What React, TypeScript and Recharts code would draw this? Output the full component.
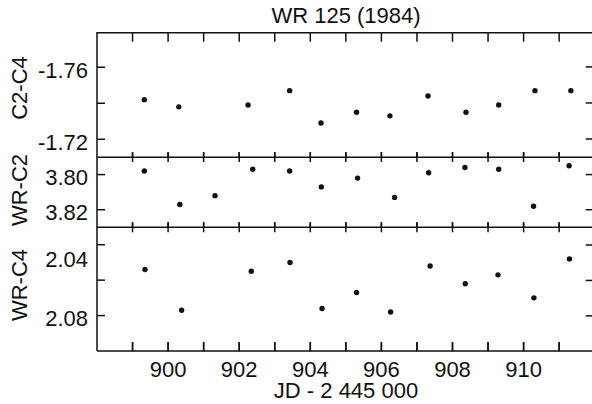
import { Scatter, ScatterChart, XAxis, YAxis } from 'recharts';

// JD - 2 445 000, one list per panel (nights)
const c2c4Jd = [899.33, 900.3, 902.25, 903.42, 904.3, 905.3, 906.24, 907.31, 908.38, 909.3, 910.32, 911.33];
const c2c4Mag = [-1.742, -1.738, -1.739, -1.747, -1.729, -1.735, -1.733, -1.744, -1.735, -1.739, -1.747, -1.747];

const wrC2Jd = [899.33, 900.33, 901.32, 902.38, 903.42, 904.31, 905.33, 906.37, 907.33, 908.35, 909.3, 910.28, 911.28];
const wrC2Mag = [3.798, 3.817, 3.812, 3.797, 3.798, 3.807, 3.802, 3.813, 3.799, 3.796, 3.797, 3.818, 3.795];

const wrC4Jd = [899.35, 900.38, 902.34, 903.43, 904.33, 905.3, 906.26, 907.37, 908.36, 909.28, 910.29, 911.29];
const wrC4Mag = [2.054, 2.077, 2.055, 2.05, 2.076, 2.067, 2.078, 2.052, 2.062, 2.057, 2.07, 2.048];

const xTicks = [899, 900, 901, 902, 903, 904, 905, 906, 907, 908, 909, 910, 911];
const xLabels = [900, 902, 904, 906, 908, 910];

const c2c4Ticks = [-1.76, -1.74, -1.72];
const c2c4Labels = [-1.76, -1.72];
const wrC2Ticks = [3.8, 3.82];
const wrC2Labels = [3.8, 3.82];
const wrC4Ticks = [2.04, 2.06, 2.08];
const wrC4Labels = [2.04, 2.08];

const INK = '#111';
const FONT = '"Liberation Sans", Arial, Helvetica, sans-serif';
const FS = 22;
const LW = 1.5;

const X_DOMAIN: [number, number] = [898, 912];
const CHART_W = 600;
const PLOT_LEFT = 97;
const PLOT_W = 497.7;
const RIGHT_W = CHART_W - PLOT_LEFT - PLOT_W;

const toPoints = (jd: number[], mag: number[]) => jd.map((x, i) => ({ x, y: mag[i] }));

const XTick = (p: any) => {
    const { x, y, payload, bottomLen, showLabel } = p;
    const v = payload.value;
    return (
        <g>
            <line x1={x} x2={x} y1={y} y2={y - bottomLen} stroke={INK} strokeWidth={LW} />
            {showLabel && xLabels.includes(v) && (
                <text x={x} y={y + 26} textAnchor="middle" fontFamily={FONT} fontSize={FS} fill={INK}>
                    {v}
                </text>
            )}
        </g>
    );
};

const YTick = (p: any) => {
    const { x, y, payload, labels, shift } = p;
    const v = payload.value;
    const extra = shift && shift[v.toFixed(2)] ? shift[v.toFixed(2)] : 0;
    return (
        <g>
            <line x1={x} x2={x + 8} y1={y} y2={y} stroke={INK} strokeWidth={LW} />
            {labels.includes(v) && (
                <text x={x - 9} y={y + FS * 0.36 + 2.5 + extra} textAnchor="end" fontFamily={FONT} fontSize={FS} fill={INK}>
                    {v.toFixed(2)}
                </text>
            )}
        </g>
    );
};

const Dot = (p: any) => <circle cx={p.cx} cy={p.cy} r={2.7} fill={INK} />;

interface PanelProps {
    top: number;
    plotHeight: number;
    data: { x: number; y: number }[];
    domain: [number, number];
    ticks: number[];
    labels: number[];
    bottomTick: number;
    showX?: boolean;
    shift?: { [k: string]: number };
}

// each panel is its own chart, stacked so the plot areas touch
const Panel = ({ top, plotHeight, data, domain, ticks, labels, bottomTick, showX, shift }: PanelProps) => {
    const bottomSpace = showX ? 50 : 10;
    const axisLine = { stroke: INK, strokeWidth: LW };
    return (
        <div style={{ position: 'absolute', left: 0, top }}>
            <ScatterChart
                width={CHART_W}
                height={plotHeight + bottomSpace}
                margin={{ top: 0, right: RIGHT_W, bottom: 0, left: 0 }}
            >
                <XAxis
                    xAxisId="b"
                    type="number"
                    dataKey="x"
                    domain={X_DOMAIN}
                    allowDataOverflow
                    ticks={xTicks}
                    interval={0}
                    height={bottomSpace}
                    tickSize={0}
                    tickMargin={0}
                    tickLine={false}
                    axisLine={axisLine}
                    tick={(p: any) => <XTick {...p} bottomLen={bottomTick} showLabel={showX} />}
                />
                <YAxis
                    yAxisId="l"
                    type="number"
                    dataKey="y"
                    domain={domain}
                    allowDataOverflow
                    reversed
                    ticks={ticks}
                    interval={0}
                    width={PLOT_LEFT}
                    tickSize={0}
                    tickMargin={0}
                    tickLine={false}
                    axisLine={axisLine}
                    tick={(p: any) => <YTick {...p} labels={labels} shift={shift} />}
                />
                <Scatter xAxisId="b" yAxisId="l" data={data} shape={Dot} isAnimationActive={false} />
            </ScatterChart>
        </div>
    );
};

// panel geometry shared by the charts and the frame overlay
const panels = [
    { top: 32.7, plotHeight: 124.3, domain: [-1.779, -1.71] as [number, number], ticks: c2c4Ticks, topLen: 9, bottomLen: 5 },
    { top: 157, plotHeight: 70.3, domain: [3.79, 3.83] as [number, number], ticks: wrC2Ticks, topLen: 5, bottomLen: 5 },
    { top: 227.3, plotHeight: 124, domain: [2.03, 2.1] as [number, number], ticks: wrC4Ticks, topLen: 5, bottomLen: 9 },
];

const xPos = (v: number) => PLOT_LEFT + ((v - X_DOMAIN[0]) / (X_DOMAIN[1] - X_DOMAIN[0])) * PLOT_W;

// top edge, inner edges and right edge ticks of the frame
const FrameTicks = () => {
    const right = PLOT_LEFT + PLOT_W;
    return (
        <g stroke={INK} strokeWidth={LW}>
            <line x1={PLOT_LEFT - 0.7} x2={right} y1={panels[0].top} y2={panels[0].top} />
            {panels.map((pn, i) => {
                const bottom = pn.top + pn.plotHeight;
                const yPos = (v: number) => pn.top + ((v - pn.domain[0]) / (pn.domain[1] - pn.domain[0])) * pn.plotHeight;
                return (
                    <g key={i}>
                        {xTicks.map((t) => (
                            <g key={t}>
                                <line x1={xPos(t)} x2={xPos(t)} y1={pn.top} y2={pn.top + pn.topLen} />
                                <line x1={xPos(t)} x2={xPos(t)} y1={bottom} y2={bottom - pn.bottomLen} />
                            </g>
                        ))}
                        {pn.ticks.map((t) => (
                            <line key={t} x1={right} x2={right - 9} y1={yPos(t)} y2={yPos(t)} />
                        ))}
                    </g>
                );
            })}
        </g>
    );
};

const App = () => {
    const textStyle = { fontFamily: FONT, fontSize: FS, fill: INK };
    return (
        <div
            style={{
                position: 'absolute',
                left: 0,
                top: 0,
                width: 592,
                height: 404,
                overflow: 'hidden',
                background: '#fff',
            }}
        >
            <Panel
                top={panels[0].top}
                plotHeight={panels[0].plotHeight}
                data={toPoints(c2c4Jd, c2c4Mag)}
                domain={panels[0].domain}
                ticks={c2c4Ticks}
                labels={c2c4Labels}
                bottomTick={panels[0].bottomLen}
            />
            <Panel
                top={panels[1].top}
                plotHeight={panels[1].plotHeight}
                data={toPoints(wrC2Jd, wrC2Mag)}
                domain={panels[1].domain}
                ticks={wrC2Ticks}
                labels={wrC2Labels}
                bottomTick={panels[1].bottomLen}
            />
            <Panel
                top={panels[2].top}
                plotHeight={panels[2].plotHeight}
                data={toPoints(wrC4Jd, wrC4Mag)}
                domain={panels[2].domain}
                ticks={wrC4Ticks}
                labels={wrC4Labels}
                bottomTick={panels[2].bottomLen}
                showX
                shift={{ '2.04': 12 }}
            />
            <svg width={592} height={404} style={{ position: 'absolute', left: 0, top: 0, pointerEvents: 'none' }}>
                <FrameTicks />
                <text x={346} y={22.7} textAnchor="middle" {...textStyle}>
                    WR 125 (1984)
                </text>
                <text x={346} y={397.5} textAnchor="middle" {...textStyle}>
                    JD - 2 445 000
                </text>
                <text transform="translate(27.2, 88) rotate(-90)" textAnchor="middle" {...textStyle}>
                    C2-C4
                </text>
                <text transform="translate(27.2, 190) rotate(-90)" textAnchor="middle" {...textStyle}>
                    WR-C2
                </text>
                <text transform="translate(27.2, 285) rotate(-90)" textAnchor="middle" {...textStyle}>
                    WR-C4
                </text>
            </svg>
        </div>
    );
};

export default App;
